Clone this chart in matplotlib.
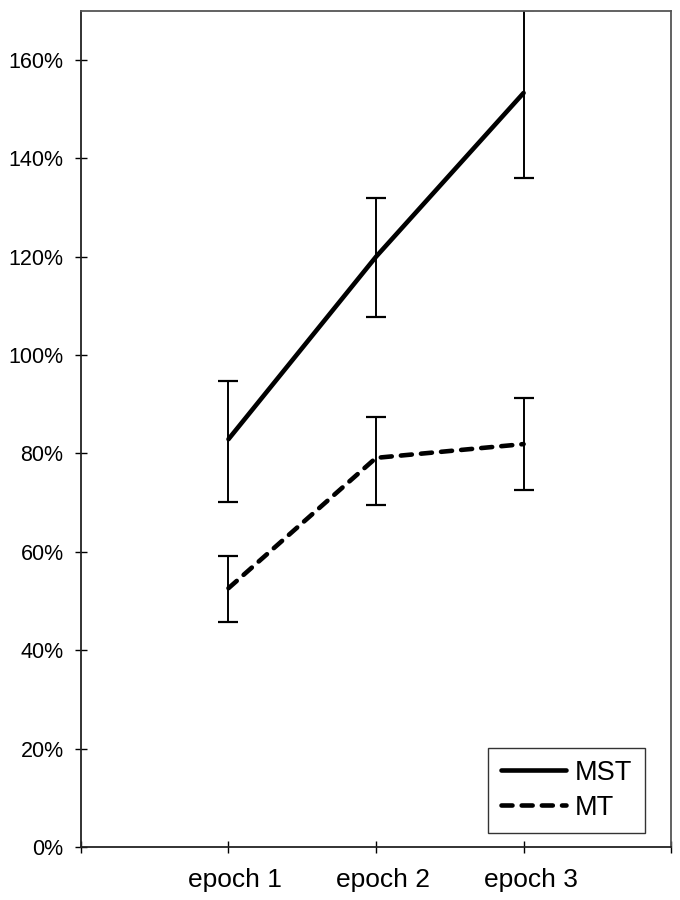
import matplotlib.pyplot as plt
import matplotlib.transforms as mtransforms
from matplotlib.ticker import FuncFormatter

plt.rcParams['font.family'] = ['Liberation Sans', 'DejaVu Sans']

epochs = ['epoch 1', 'epoch 2', 'epoch 3']
positions = [1, 2, 3]

mst = [82.9, 120.0, 153.3]
mst_low = [70.1, 107.7, 136.0]
mst_high = [94.7, 131.9, 170.2]

mt = [52.6, 79.1, 81.9]
mt_low = [45.7, 69.5, 72.6]
mt_high = [59.1, 87.4, 91.3]

fig = plt.figure(figsize=(6.8, 9), dpi=100)
ax = fig.add_axes([0.119, 0.059, 0.868, 0.929])


def draw_errors(vals, low, high):
    err = [[v - lo for v, lo in zip(vals, low)], [hi - v for v, hi in zip(vals, high)]]
    ax.errorbar(positions, vals, yerr=err, fmt='none', ecolor='black',
                elinewidth=1.4, capsize=7, capthick=1.6, zorder=2)


draw_errors(mst, mst_low, mst_high)
draw_errors(mt, mt_low, mt_high)

ax.plot(positions, mst, color='black', lw=3.3, solid_capstyle='round', label='MST', zorder=3)
ax.plot(positions, mt, color='black', lw=3.3, dashes=(2.4, 2.0), dash_capstyle='round',
        label='MT', zorder=3)

ax.set_xlim(0, 4)
ax.set_ylim(0, 170)
ax.set_xticks([0, 1, 2, 3, 4])
ax.set_xticklabels([''] + epochs + [''])
ax.set_yticks(range(0, 161, 20))
ax.yaxis.set_major_formatter(FuncFormatter(lambda v, p: f'{v:.0f}%'))
ax.tick_params(axis='both', direction='inout', length=9, width=1, color='black')
ax.tick_params(axis='x', pad=11, labelsize=19)
ax.tick_params(axis='y', pad=8, labelsize=15.5)

# category labels sit a little right of their tick marks in the original
shift = mtransforms.ScaledTranslation(5 / 72, 0, fig.dpi_scale_trans)
for lbl in ax.get_xticklabels():
    lbl.set_transform(lbl.get_transform() + shift)

for name, sp in ax.spines.items():
    sp.set_linewidth(1.3)
    sp.set_color('#555555' if name in ('top', 'right') else '#222222')

leg = ax.legend(loc='lower right', bbox_to_anchor=(0.955, 0.0167), fontsize=19.5,
                frameon=True, fancybox=False, edgecolor='black', handlelength=2.4,
                handletextpad=0.35, borderpad=0.45, labelspacing=0.33, borderaxespad=0)
leg.get_frame().set_linewidth(1.0)

fig.savefig('out.png', dpi=100)
